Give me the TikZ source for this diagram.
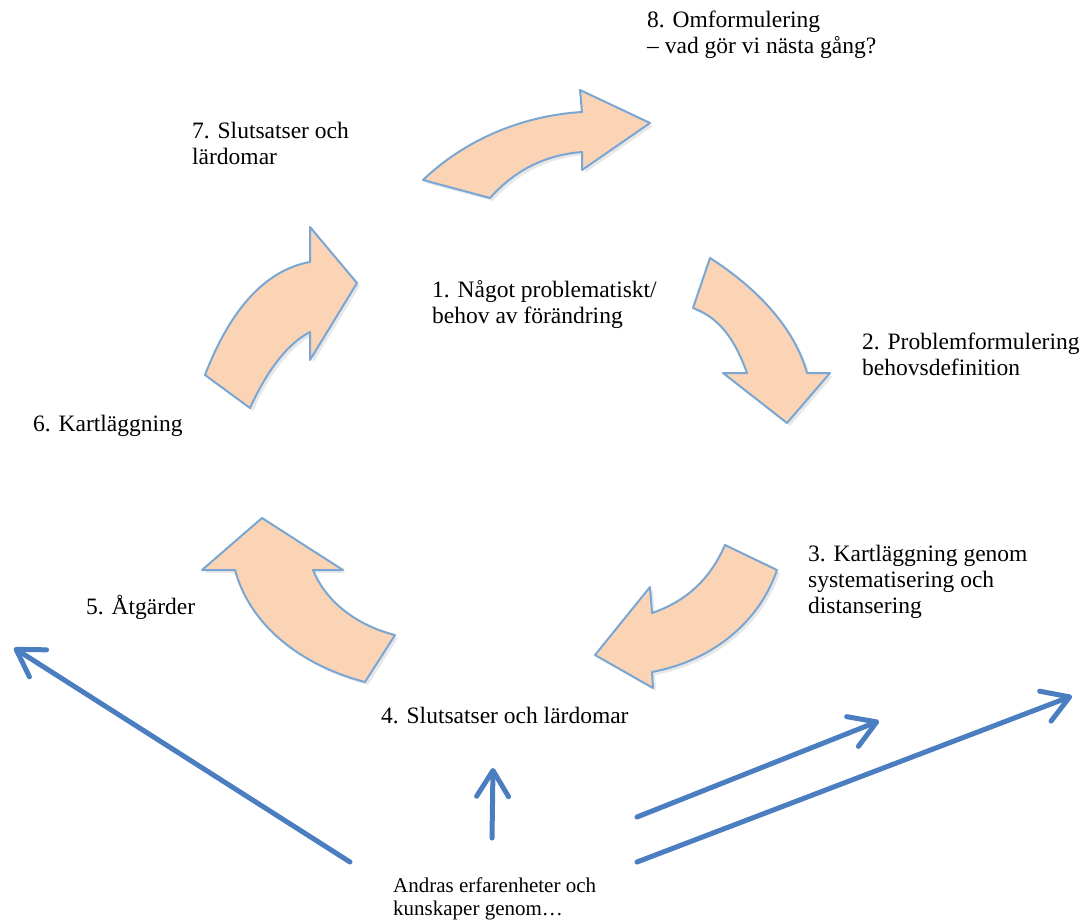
\documentclass[tikz,border=0pt]{standalone}
\usepackage{fontspec}
\setmainfont{Liberation Serif}
\usetikzlibrary{arrows.meta,shadows}
\definecolor{peach}{RGB}{251,212,181}
\definecolor{rim}{RGB}{122,166,212}
\definecolor{hintblue}{RGB}{74,126,192}

\begin{document}
\begin{tikzpicture}[
  x=1pt, y=-1pt,
  every node/.style = {inner sep=0pt, anchor=base west, align=left, font=\fontsize{23.5}{26}\selectfont},
  bendarrow/.style = {fill=peach, draw=rim, line width=2pt, line join=round,
                      drop shadow={opacity=0.18, shadow xshift=3pt, shadow yshift=-3pt}},
  hint/.style = {draw=hintblue, line width=5pt, line cap=round,
                 -{Straight Barb[length=26pt,width=32pt,round]}}
]
  \useasboundingbox (0,0) rectangle (1083,921);

  \node (omf)   at (647,53)  {8. Omformulering\\– vad gör vi nästa gång?};
  \node (slut7) at (192,164) {7. Slutsatser och\\lärdomar};
  \node (prob)  at (432,323) {1. Något problematiskt/\\behov av förändring};
  \node (def)   at (862,375) {2. Problemformulering\\behovsdefinition};
  \node (kart6) at (33,431)  {6. Kartläggning};
  \node (kart3) at (808,613) {3. Kartläggning genom\\systematisering och\\distansering};
  \node (atg)   at (86,614)  {5. Åtgärder};
  \node (slut4) at (381,723) {4. Slutsatser och lärdomar};
  \node[font=\fontsize{21}{23}\selectfont] (andras) at (393,915) {Andras erfarenheter och\\kunskaper genom\ldots};

  \filldraw[bendarrow] (423,180) .. controls (470,135) and (530,115) .. (582,112)
    -- (580,90) -- (650,123) -- (582,170) -- (582,152)
    .. controls (545,155) and (515,170) .. (490,198) -- cycle;
  \filldraw[bendarrow] (710,258) .. controls (760,290) and (795,330) .. (807,373)
    -- (830,373) -- (787,423) -- (723,373) -- (747,373)
    .. controls (735,340) and (720,318) .. (693,308) -- cycle;
  \filldraw[bendarrow] (777,570) .. controls (760,620) and (715,660) .. (652,672)
    -- (653,688) -- (595,655) -- (650,587) -- (652,613)
    .. controls (690,600) and (712,575) .. (725,545) -- cycle;
  \filldraw[bendarrow] (262,518) -- (343,570) -- (313,570)
    .. controls (325,600) and (355,625) .. (395,635) -- (365,682)
    .. controls (300,665) and (250,625) .. (235,570) -- (202,570) -- cycle;
  \filldraw[bendarrow] (205,375) .. controls (230,310) and (265,270) .. (310,262)
    -- (310,227) -- (357,283) -- (310,360) -- (310,332)
    .. controls (285,345) and (265,375) .. (250,408) -- cycle;

  \coordinate (w0) at (350,862);  \coordinate (w1) at (14,648);
  \coordinate (n0) at (492,838);  \coordinate (n1) at (493,768);
  \coordinate (e0) at (637,817);  \coordinate (e1) at (879,721);
  \coordinate (f0) at (637,862);  \coordinate (f1) at (1072,696);
  \draw[hint] (w0) -- (w1);
  \draw[hint] (n0) -- (n1);
  \draw[hint] (e0) -- (e1);
  \draw[hint] (f0) -- (f1);
\end{tikzpicture}
\end{document}
